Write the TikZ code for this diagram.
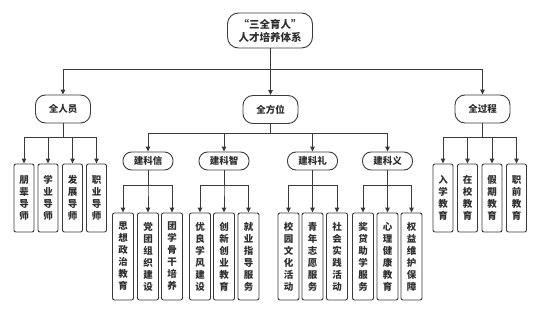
\documentclass[tikz,border=0pt]{standalone}
\usepackage{fontspec}
\newfontfamily\cjk{Noto Sans CJK SC}
\usetikzlibrary{arrows.meta}
\definecolor{ln}{HTML}{3A3A3A}
\definecolor{tx}{HTML}{2E2E2E}
\tikzset{
  base/.style={draw=ln, line width=0.9pt, text=tx, inner sep=0pt, align=center},
  rootbox/.style={base, rounded corners=11pt, minimum width=85pt, minimum height=35pt,
    font=\cjk\bfseries\fontsize{10.5}{13}\selectfont},
  topbox/.style={base, rounded corners=10pt, minimum width=55pt, minimum height=28pt,
    font=\cjk\bfseries\fontsize{9.5}{12}\selectfont},
  midbox/.style={base, rounded corners=8.5pt, minimum width=50pt, minimum height=18pt,
    font=\cjk\bfseries\fontsize{9.5}{12}\selectfont},
  leafa/.style={base, rounded corners=2pt, minimum width=20pt, minimum height=68pt,
    font=\cjk\bfseries\fontsize{9.5}{12}\selectfont},
  leafb/.style={base, rounded corners=2pt, minimum width=21pt, minimum height=87pt,
    font=\cjk\bfseries\fontsize{9.5}{12}\selectfont},
  arr/.style={draw=ln, line width=0.9pt, -{Triangle[length=5pt,width=4.5pt]}},
}
\begin{document}
\begin{tikzpicture}[x=1pt,y=-1pt]
\useasboundingbox (0,0) rectangle (540,313);
% root
\node[rootbox] (root) at (270,30.5) {“三全育人”\\人才培养体系};
% level 2
\node[topbox] (ry) at (63,109) {全人员};
\node[topbox] (fw) at (270.5,109.5) {全方位};
\node[topbox] (gc) at (482.5,109) {全过程};
\coordinate (b0) at (0,69);
\foreach \c in {ry,fw,gc} \draw[arr] (root.south) -- (root.south |- b0) -| (\c.north);
% 全人员 leaves
\node[leafa] (r1) at (24,198) {朋\\辈\\导\\师};
\node[leafa] (r2) at (48,198) {学\\业\\导\\师};
\node[leafa] (r3) at (72.5,198) {发\\展\\导\\师};
\node[leafa] (r4) at (96.5,198) {职\\业\\导\\师};
\coordinate (b1) at (0,137);
\foreach \c in {r1,r2,r3,r4} \draw[arr] (ry.south) -- (ry.south |- b1) -| (\c.north);
% 全过程 leaves
\node[leafa] (g1) at (443,198) {入\\学\\教\\育};
\node[leafa] (g2) at (467.5,198) {在\\校\\教\\育};
\node[leafa] (g3) at (492,198) {假\\期\\教\\育};
\node[leafa] (g4) at (516.5,198) {职\\前\\教\\育};
\foreach \c in {g1,g2,g3,g4} \draw[arr] (gc.south) -- (gc.south |- b1) -| (\c.north);
% 建科 boxes
\node[midbox] (kx) at (148,161) {建科信};
\node[midbox] (kz) at (224,161) {建科智};
\node[midbox] (kl) at (312.5,161) {建科礼};
\node[midbox] (ky) at (387.5,161) {建科义};
\coordinate (b2) at (0,133);
\foreach \c in {kx,kz,kl,ky} \draw[arr] (fw.south) -- (fw.south |- b2) -| (\c.north);
% leaves
\coordinate (b3) at (0,185);
\node[leafb] (x1) at (123,256.5) {思\\想\\政\\治\\教\\育};
\node[leafb] (x2) at (148,256.5) {党\\团\\组\\织\\建\\设};
\node[leafb] (x3) at (172,256.5) {团\\学\\骨\\干\\培\\养};
\foreach \c in {x1,x2,x3} \draw[arr] (kx.south) -- (kx.south |- b3) -| (\c.north);
\node[leafb] (z1) at (200,256.5) {优\\良\\学\\风\\建\\设};
\node[leafb] (z2) at (224,256.5) {创\\新\\创\\业\\教\\育};
\node[leafb] (z3) at (248.5,256.5) {就\\业\\指\\导\\服\\务};
\foreach \c in {z1,z2,z3} \draw[arr] (kz.south) -- (kz.south |- b3) -| (\c.north);
\node[leafb] (l1) at (288.5,256.5) {校\\园\\文\\化\\活\\动};
\node[leafb] (l2) at (312.5,256.5) {青\\年\\志\\愿\\服\\务};
\node[leafb] (l3) at (337,256.5) {社\\会\\实\\践\\活\\动};
\foreach \c in {l1,l2,l3} \draw[arr] (kl.south) -- (kl.south |- b3) -| (\c.north);
\node[leafb] (y1) at (363,256.5) {奖\\贷\\助\\学\\服\\务};
\node[leafb] (y2) at (387.5,256.5) {心\\理\\健\\康\\教\\育};
\node[leafb] (y3) at (411.5,256.5) {权\\益\\维\\护\\保\\障};
\foreach \c in {y1,y2,y3} \draw[arr] (ky.south) -- (ky.south |- b3) -| (\c.north);
\end{tikzpicture}
\end{document}
